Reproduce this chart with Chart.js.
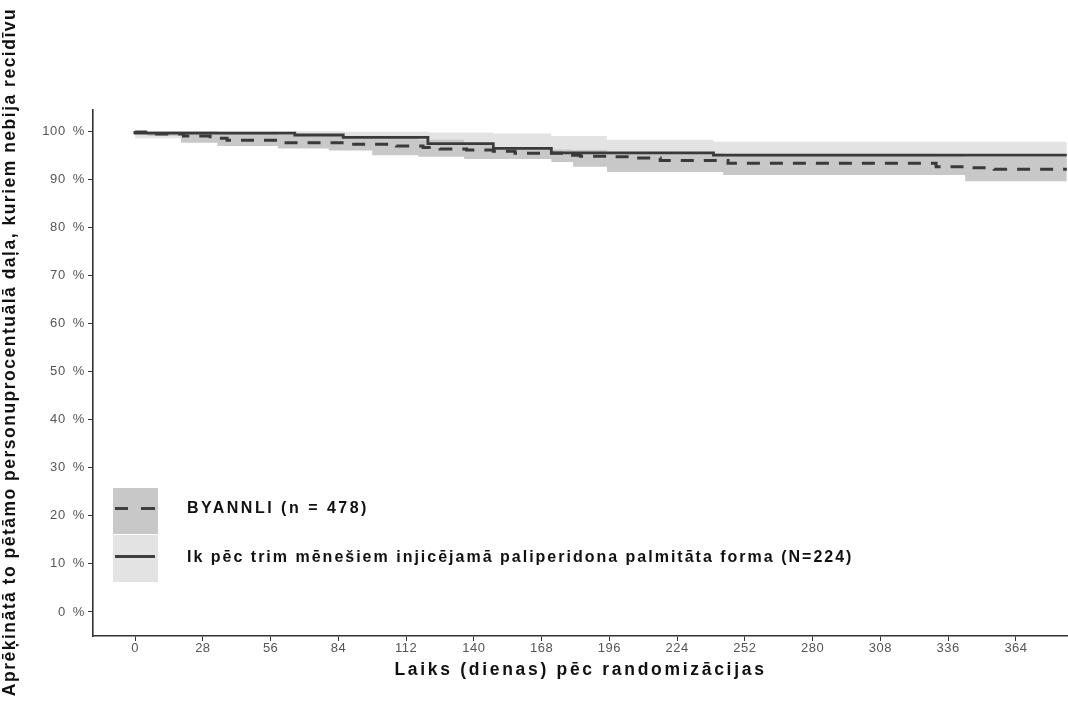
<!DOCTYPE html>
<html>
<head>
<meta charset="utf-8">
<script src="https://cdn.jsdelivr.net/npm/chart.js@4.4.1/dist/chart.umd.min.js"></script>
<style>
  html, body { margin: 0; padding: 0; background: #ffffff; }
  #wrap { position: relative; width: 1068px; height: 706px; overflow: hidden; }
  #c { position: absolute; left: 0; top: 0; }
  .sw { position: absolute; left: 113px; width: 45px; }
  .mk { position: absolute; height: 3px; background: #3f3f3f; }
  .lt { position: absolute; left: 187px; font: bold 16px 'Liberation Sans', Arial, sans-serif;
        line-height: 20px; color: #111; white-space: nowrap; }
</style>
</head>
<body>
<div id="wrap">
  <canvas id="c" width="1068" height="706"></canvas>
  <div class="sw" style="top:488px;height:46px;background:#c8c8c8"></div>
  <div class="sw" style="top:535px;height:47px;background:#e3e3e3"></div>
  <div class="mk" style="left:115px;top:507px;width:13px"></div>
  <div class="mk" style="left:141px;top:507px;width:14px"></div>
  <div class="mk" style="left:115px;top:555px;width:40px"></div>
  <div class="lt" id="lt1" style="top:498px;letter-spacing:2.5px"></div>
  <div class="lt" id="lt2" style="top:547px;letter-spacing:2px"></div>
</div>
<script>
// ---------- data ----------
const seriesNames = ['BYANNLI (n = 478)', 'Ik pēc trim mēnešiem injicējamā paliperidona palmitāta forma (N=224)'];
const xTitle = 'Laiks (dienas) pēc randomizācijas';
const yTitle = 'Aprēķinātā to pētāmo personuprocentuālā daļa, kuriem nebija recidīvu';

const dayTicks = [0, 28, 56, 84, 112, 140, 168, 196, 224, 252, 280, 308, 336, 364];
const pctTicks = [0, 10, 20, 30, 40, 50, 60, 70, 80, 90, 100];

// BYANNLI Kaplan-Meier estimate (dashed)
const byDays = [0, 5, 20, 31, 38, 59, 88, 108, 119, 126, 137, 148, 157, 178, 184, 196, 207, 217, 245, 331, 343, 355, 364, 385];
const bySurv = [100, 99.8, 99.4, 99.0, 98.5, 98.1, 97.6, 97.3, 96.9, 96.6, 96.3, 96.1, 95.8, 95.4, 95.0, 94.8, 94.7, 94.4, 93.9, 93.3, 92.6, 92.4, 92.1, 92.1];
// BYANNLI confidence band
const byBandDays  = [0, 5, 19, 34, 59, 80, 98, 117, 136, 147, 172, 181, 195, 243, 331, 343, 364, 385];
const byBandUpper = [100, 100, 100, 100, 99.5, 99.2, 99.0, 98.7, 98.2, 97.3, 96.3, 96.2, 96.1, 95.4, 95.3, 94.9, 94.6, 94.6];
const byBandLower = [100, 99.5, 99.0, 97.6, 96.9, 96.4, 96.0, 95.0, 94.7, 94.2, 94.2, 93.6, 92.6, 91.5, 90.9, 90.9, 89.6, 89.6];

// PP3M Kaplan-Meier estimate (solid)
const ppDays = [0, 66, 86, 121, 148, 172, 239, 344, 385];
const ppSurv = [100, 99.6, 99.2, 98.7, 97.4, 96.4, 95.5, 95.0, 95.0];
// PP3M confidence band
const ppBandDays  = [0, 66, 86, 121, 148, 172, 195, 239, 344, 385];
const ppBandUpper = [100, 100, 100, 99.9, 99.7, 99.5, 99.0, 98.2, 97.8, 97.8];
const ppBandLower = [100, 98.5, 97.8, 97.0, 95.6, 94.4, 94.4, 93.2, 92.4, 92.4];

// ---------- legend text ----------
document.getElementById('lt1').textContent = seriesNames[0];
document.getElementById('lt2').textContent = seriesNames[1];

// ---------- scale with letter-spaced text ----------
const TEXT_SPACING = { x: { ticks: '0.5px', title: '2.7px' }, y: { ticks: '0.6px', title: '1.5px' } };
class SpacedLinearScale extends Chart.LinearScale {
  drawLabels(chartArea) {
    const ctx = this.ctx, prev = ctx.letterSpacing;
    ctx.letterSpacing = TEXT_SPACING[this.id].ticks;
    super.drawLabels(chartArea);
    ctx.letterSpacing = prev;
  }
  drawTitle() {
    const ctx = this.ctx, prev = ctx.letterSpacing;
    ctx.letterSpacing = TEXT_SPACING[this.id].title;
    if (this.id === 'y') {
      const t = this.top, b = this.bottom;
      this.top = 0; this.bottom = 704;
      super.drawTitle();
      this.top = t; this.bottom = b;
    } else {
      super.drawTitle();
    }
    ctx.letterSpacing = prev;
  }
}
SpacedLinearScale.id = 'spacedLinear';
SpacedLinearScale.defaults = Chart.LinearScale.defaults;
Chart.register(SpacedLinearScale);

const pts = (days, vals) => days.map((d, i) => ({ x: d, y: vals[i] }));
const NONE = 'rgba(0,0,0,0)';
const FONT = "'Liberation Sans', Arial, sans-serif";
Chart.defaults.font.family = FONT;

new Chart(document.getElementById('c'), {
  type: 'line',
  data: {
    datasets: [
      { label: seriesNames[1], data: pts(ppDays, ppSurv), stepped: 'after', borderColor: '#3a3a3a',
        borderWidth: 2.8, pointRadius: 0, fill: false },
      { label: seriesNames[0], data: pts(byDays, bySurv), stepped: 'after', borderColor: '#3a3a3a',
        borderWidth: 3, borderDash: [13, 10], borderCapStyle: 'butt', pointRadius: 0, fill: false },
      { label: 'BYANNLI upper', data: pts(byBandDays, byBandUpper), stepped: 'after', borderColor: NONE,
        borderWidth: 1, pointRadius: 0, fill: '+1', backgroundColor: '#c8c8c8' },
      { label: 'BYANNLI lower', data: pts(byBandDays, byBandLower), stepped: 'after', borderColor: NONE,
        borderWidth: 1, pointRadius: 0, fill: false },
      { label: 'PP3M upper', data: pts(ppBandDays, ppBandUpper), stepped: 'after', borderColor: NONE,
        borderWidth: 1, pointRadius: 0, fill: '+1', backgroundColor: '#e3e3e3' },
      { label: 'PP3M lower', data: pts(ppBandDays, ppBandLower), stepped: 'after', borderColor: NONE,
        borderWidth: 1, pointRadius: 0, fill: false }
    ]
  },
  options: {
    responsive: false,
    animation: false,
    events: [],
    layout: { padding: { top: 110, left: 0, right: 0, bottom: 0 } },
    plugins: { legend: { display: false }, tooltip: { enabled: false } },
    scales: {
      x: {
        type: 'spacedLinear', position: 'bottom', min: -17.4, max: 385.5,
        afterBuildTicks: ax => { ax.ticks = dayTicks.map(v => ({ value: v })); },
        afterFit: s => { s.height = 70; },
        ticks: { font: { size: 13 }, color: '#555', padding: 0, maxRotation: 0, autoSkip: false },
        grid: { drawOnChartArea: false, drawTicks: true, tickLength: 5, color: '#333', tickWidth: 1 },
        border: { display: true, color: '#333', width: 1.6 },
        title: { display: true, text: xTitle, color: '#111', font: { size: 17.5, weight: 'bold' },
                 padding: { top: 0, bottom: 25 } }
      },
      y: {
        type: 'spacedLinear', position: 'left', min: -5, max: 104.4,
        afterBuildTicks: ax => { ax.ticks = pctTicks.map(v => ({ value: v })); },
        afterFit: s => { s.width = 93; },
        ticks: { font: { size: 13 }, color: '#555', padding: 3, callback: v => v + '\u2002%' },
        grid: { drawOnChartArea: false, drawTicks: true, tickLength: 5, color: '#333', tickWidth: 1 },
        border: { display: true, color: '#333', width: 1.6 },
        title: { display: true, text: yTitle, color: '#111', font: { size: 17.5, weight: 'bold' },
                 padding: { top: 0, bottom: 0 } }
      }
    }
  }
});
</script>
</body>
</html>
